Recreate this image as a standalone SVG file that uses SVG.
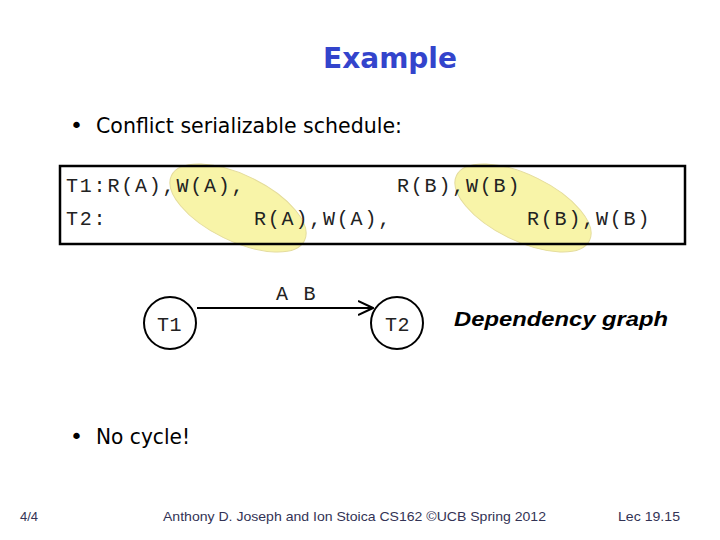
<svg xmlns="http://www.w3.org/2000/svg" width="720" height="540" viewBox="0 0 720 540">
<style>
.mono{font-family:"Liberation Mono","Courier New",monospace;font-size:20px;letter-spacing:1.8px;fill:#222}
.body{font-family:"DejaVu Sans","Liberation Sans",sans-serif;font-size:22px;fill:#000}
.foot{font-family:"Liberation Sans",Arial,sans-serif;font-size:13px;fill:#333355}
.hl{fill:#f8f4a8;stroke:#e4dc9c;stroke-width:1}
.node circle{fill:#fff;stroke:#000;stroke-width:2}
</style>
<defs>
<marker id="arr" markerWidth="16" markerHeight="16" refX="15" refY="8" orient="auto" markerUnits="userSpaceOnUse">
<path d="M0,1 L15,8 L0,15" fill="none" stroke="#000" stroke-width="2"/>
</marker>
</defs>
<rect width="720" height="540" fill="#fff"/>
<text x="390" y="68" text-anchor="middle" font-family="'DejaVu Sans',Verdana,sans-serif" font-weight="bold" font-size="28" fill="#3344cc">Example</text>
<text x="70" y="133" class="body">•</text>
<text x="96" y="133" class="body" textLength="306" lengthAdjust="spacingAndGlyphs">Conflict serializable schedule:</text>
<g id="schedule">
<ellipse class="hl" cx="238" cy="208" rx="74" ry="33" transform="rotate(26 238 208)"/>
<ellipse class="hl" cx="523" cy="208" rx="74" ry="33" transform="rotate(26 523 208)"/>
<rect x="60" y="166" width="625" height="78" fill="none" stroke="#000" stroke-width="2.5"/>
<text x="66" y="192" class="mono">T1:R(A),W(A),</text>
<text x="397" y="192" class="mono">R(B),W(B)</text>
<text x="66" y="225" class="mono">T2:</text>
<text x="254" y="225" class="mono">R(A),W(A),</text>
<text x="527" y="225" class="mono">R(B),W(B)</text>
</g>
<g id="connectors">
<line x1="197" y1="308" x2="373" y2="308" stroke="#000" stroke-width="2" marker-end="url(#arr)"/>
<text x="276" y="300" class="mono">A B</text>
</g>
<g id="T1" class="node">
<circle cx="170" cy="323" r="26"/>
<text x="157" y="331" class="mono" style="letter-spacing:0.5px">T1</text>
</g>
<g id="T2" class="node">
<circle cx="397" cy="323" r="26"/>
<text x="385" y="331" class="mono" style="letter-spacing:0.5px">T2</text>
</g>
<text x="454" y="326" font-family="'Liberation Sans',Arial,sans-serif" font-weight="bold" font-style="italic" font-size="21" fill="#000" textLength="214" lengthAdjust="spacingAndGlyphs">Dependency graph</text>
<text x="70" y="444" class="body">•</text>
<text x="96" y="444" class="body" textLength="94" lengthAdjust="spacingAndGlyphs">No cycle!</text>
<text x="20" y="521" class="foot">4/4</text>
<text x="163" y="521" class="foot" textLength="383" lengthAdjust="spacingAndGlyphs">Anthony D. Joseph and Ion Stoica CS162 ©UCB Spring 2012</text>
<text x="618" y="521" class="foot" textLength="62" lengthAdjust="spacingAndGlyphs">Lec 19.15</text>
</svg>
